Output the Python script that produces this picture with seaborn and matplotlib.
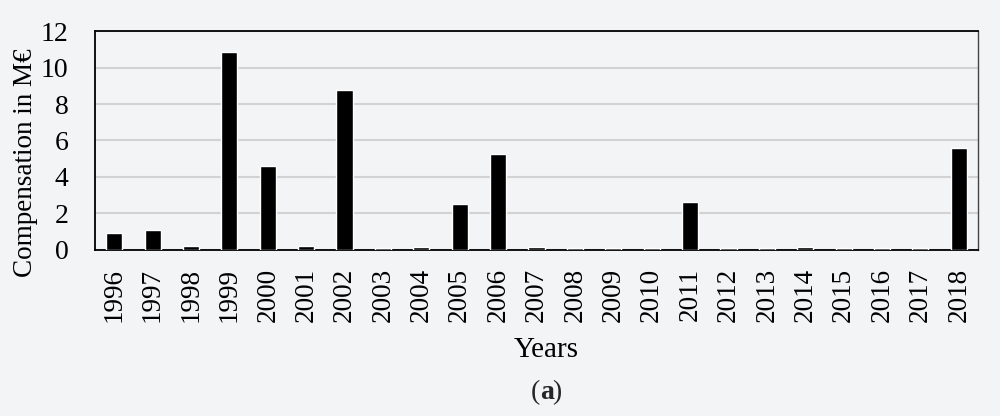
import numpy as np
import pandas as pd
import matplotlib
matplotlib.use('Agg')
import matplotlib.pyplot as plt
import seaborn as sns

# Data
years = [str(y) for y in range(1996, 2019)]
compensation = [0.93, 1.1, 0.22, 10.87, 4.57, 0.18, 8.77, 0.09, 0.13, 2.5,
                5.26, 0.13, 0.07, 0.07, 0.07, 2.61, 0.07, 0.07, 0.13, 0.07,
                0.07, 0.07, 5.59]
y_ticks = [0, 2, 4, 6, 8, 10, 12]

df = pd.DataFrame({'Year': years, 'Compensation': compensation})

bg = '#f3f4f6'
sns.set_theme(style='white')
plt.rcParams['font.family'] = ['Liberation Serif', 'DejaVu Serif']

fig, ax = plt.subplots(figsize=(10, 4.16), dpi=100)
fig.patch.set_facecolor(bg)
ax.set_facecolor(bg)

sns.barplot(data=df, x='Year', y='Compensation', color='black', width=0.42,
            saturation=1, ax=ax, zorder=3)

ax.set_ylim(0, 12)
ax.set_yticks(y_ticks)
ax.yaxis.grid(True, color='#d2d2d2', linewidth=1.5, zorder=0)
ax.set_axisbelow(True)
ax.set_xlim(-0.5, len(years) - 0.5)

for side in ['left', 'top', 'bottom']:
    ax.spines[side].set_color('black')
    ax.spines[side].set_linewidth(1.3)
ax.spines['right'].set_color('#444444')
ax.spines['right'].set_linewidth(1.0)

ax.tick_params(axis='x', labelrotation=90, labelsize=19.5, length=0, pad=13, colors='black')
ax.tick_params(axis='y', labelsize=20, length=0, pad=19, colors='black')

ax.set_xlabel('Years', fontsize=21, color='black')
ax.set_ylabel('Compensation in M€', fontsize=19.5, color='black')
ax.xaxis.set_label_coords(0.511, -0.40)
ax.yaxis.set_label_coords(-0.065, 0.40)

fig.text(0.540, 0.057, '(', fontsize=20, ha='right', va='center')
fig.text(0.540, 0.057, 'a', fontsize=20, fontweight='bold', ha='left', va='center')
fig.text(0.552, 0.057, ')', fontsize=20, ha='left', va='center')

fig.subplots_adjust(left=0.095, right=0.978, top=0.925, bottom=0.4)
fig.savefig('out.png', dpi=100, facecolor=bg)
